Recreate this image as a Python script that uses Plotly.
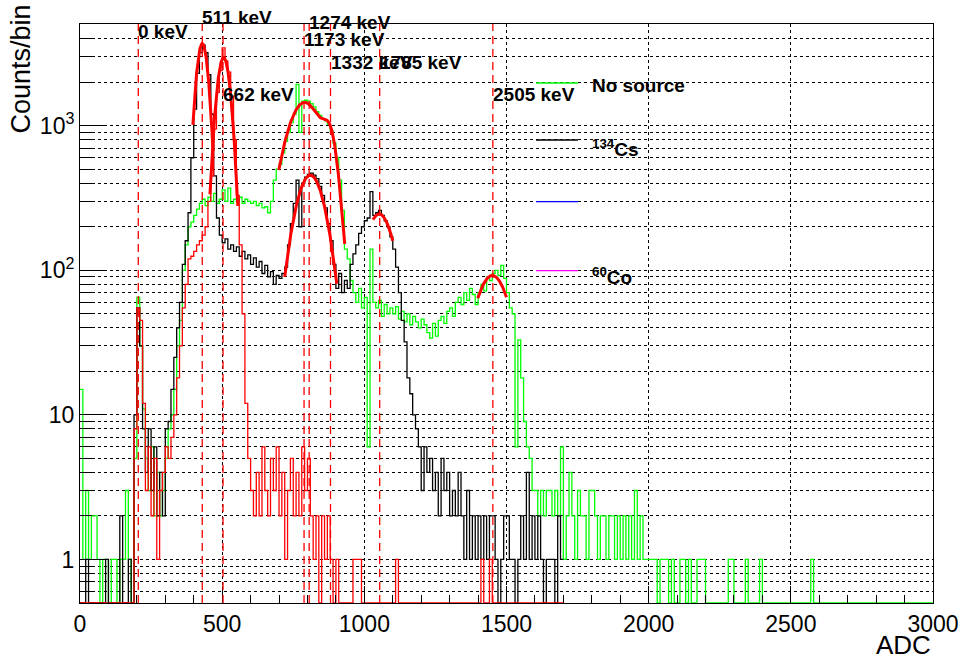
import math
import numpy as np
import plotly.graph_objects as go

# ---------------- data ----------------
BIN_WIDTH = 10  # ADC per bin, first bin starts at ADC 0

# "No source" (green), bins from ADC 0
green_counts = [
    15, 1, 3, 1, 2, 2, 1, 0, 1, 1,
    0, 1, 1, 0, 1, 1, 3, 1, 0, 5,
    65, 30, 11, 5, 3, 6, 2, 4, 2, 3,
    5, 8, 10, 15, 30, 45, 100, 150, 200, 215,
    240, 265, 290, 310, 280, 320, 300, 340, 290, 310,
    360, 300, 370, 290, 310, 300, 320, 290, 310, 300,
    290, 300, 280, 290, 270, 275, 250, 300, 420, 500,
    540, 650, 780, 900, 1050, 1200, 1930, 900, 1480, 1500,
    1480, 1420, 1350, 1250, 1180, 1120, 1080, 1020, 920, 760,
    600, 420, 260, 140, 120, 85, 70, 60, 75, 55,
    65, 6, 140, 60, 55, 62, 48, 58, 50, 55,
    50, 56, 46, 52, 44, 50, 42, 48, 44, 40,
    46, 42, 37, 34, 43, 35, 45, 48, 43, 52,
    55, 48, 60, 65, 58, 70, 62, 75, 68, 58,
    70, 80, 72, 90, 85, 95, 100, 92, 108, 88,
    70, 55, 50, 6, 33, 18, 9, 6, 5, 3,
    3, 2, 3, 2, 3, 3, 2, 3, 2, 6,
    1, 2, 4, 2, 1, 3, 2, 2, 1, 3,
    3, 2, 1, 2, 2, 1, 2, 2, 1, 2,
    1, 2, 1, 2, 1, 3, 1, 2, 1, 1,
    1, 1, 1, 0, 1, 1, 1, 0, 1, 0,
    0, 1, 1, 0, 1, 0, 0, 1, 1, 1,
    0, 0, 0, 0, 0, 0, 0, 0, 1, 1,
    0, 0, 0, 0, 1, 0, 0, 0, 0, 1,
    0, 0, 0, 0, 0, 0, 0, 0, 0, 0,
    0, 0, 0, 0, 0, 0, 0, 1, 0, 0,
    0, 0, 0, 0, 0, 0, 0, 0, 0, 0,
    0, 0, 0, 0, 0, 0, 0, 0, 0, 0,
    0, 0, 0, 0, 0, 0, 0, 0, 0, 0,
    0, 0, 0, 0, 0, 0, 0, 0, 0, 0,
]

# 134Cs (black), bins from ADC 0
black_counts = [
    0, 0, 1, 0, 0, 0, 0, 0, 0, 1,
    0, 0, 0, 0, 2, 0, 0, 1, 0, 10,
    55, 30, 8, 4, 8, 3, 6, 2, 4, 2,
    8, 9, 15, 25, 40, 60, 110, 160, 250, 600,
    1300, 2300, 3200, 3600, 3200, 2250, 1200, 450, 230, 175,
    155, 165, 140, 150, 135, 145, 125, 135, 120, 128,
    110, 122, 105, 115, 95, 108, 90, 98, 80, 92,
    88, 95, 105, 150, 210, 290, 420, 200, 400, 440,
    460, 470, 455, 430, 380, 330, 270, 210, 160, 110,
    75, 95, 70, 85, 75, 110, 130, 150, 180, 200,
    220, 230, 350, 240, 250, 260, 240, 220, 200, 170,
    140, 105, 70, 45, 32, 18, 14, 10, 8, 6,
    3, 6, 4, 5, 3, 4, 2, 5, 3, 4,
    2, 3, 2, 4, 2, 1, 3, 1, 2, 1,
    2, 1, 2, 1, 2, 2, 1, 0, 1, 2,
    2, 1, 1, 0, 1, 2, 1, 4, 1, 2,
    1, 2, 1, 0, 1, 1, 1, 0, 2, 1,
]

# red spectrum, bins from ADC 0
red_counts = [
    0, 0, 0, 0, 0, 0, 0, 0, 0, 0,
    0, 0, 0, 0, 0, 0, 0, 0, 0, 8,
    55, 45, 12, 3, 6, 2, 5, 1, 3, 4,
    6, 5, 7, 10, 18, 30, 55, 80, 120, 125,
    135, 150, 160, 175, 200, 300, 450, 950, 1700, 2400,
    3450, 2800, 2350, 1600, 800, 330, 150, 50, 12, 5,
    3, 2, 4, 2, 6, 3, 2, 5, 3, 6,
    2, 4, 1, 3, 5, 2, 4, 2, 6, 3,
    5, 2, 1, 2, 0, 2, 1, 2, 1, 0,
    1, 0, 0, 0, 0, 0, 1, 1, 1, 0,
    0, 0, 0, 0, 0, 0, 0, 0, 0, 0,
    0, 1, 0, 0, 0, 0, 0, 0, 0, 0,
    0, 0, 0, 0, 0, 0, 0, 0, 0, 0,
    0, 0, 0, 0, 0, 0, 0, 0, 0, 0,
    0, 1, 0, 0, 1, 0, 0, 0, 0, 0,
    0, 0, 0, 0, 0, 0, 0, 0, 0, 0,
    0, 0, 0, 0, 0, 0, 0, 0, 0, 0,
]

# Gaussian fit results (amplitude, mean, sigma, fit range)
fit_amp = [3700, 2960, 455, 245, 92]
fit_mean = [430, 505, 810, 1052, 1450]
fit_sigma = [20.5, 23, 50, 52, 60]
fit_lo = [397, 457, 720, 1030, 1399]
fit_hi = [468, 555, 903, 1100, 1500]
# double Gaussian fit on the green spectrum
dfit_amp = [1450, 500]
dfit_mean = [790, 880]
dfit_sigma = [62, 23]
dfit_range = [699, 931]

# calibration lines
energy_labels = ["0 keV", "511 keV", "662 keV", "1173 keV", "1274 keV",
                 "1332 keV", "1785 keV", "2505 keV"]
energy_adc = [205, 430, 503, 788, 806, 881, 1054, 1452]

legend_names = ["No source", "<sup>134</sup>Cs", "", "<sup>60</sup>Co"]
legend_colors = ["#00ff00", "#000000", "#0000ff", "#ff00ff"]

x_ticks = [0, 500, 1000, 1500, 2000, 2500, 3000]
y_ticks = [1, 10, 100, 1000]
y_ticktext = ["1", "10", "10<sup>2</sup>", "10<sup>3</sup>"]
y_minor = ([0.6, 0.7, 0.8, 0.9] + [2, 3, 4, 5, 6, 7, 8, 9]
           + [20, 30, 40, 50, 60, 70, 80, 90]
           + [200, 300, 400, 500, 600, 700, 800, 900]
           + [2000, 3000, 4000, 5000])

# ---------------- layout constants ----------------
W, H = 961, 655
L, R, T, B = 80, 28, 24, 52
Y_MIN, Y_MAX = 0.5, 5050
X_MAX = 3000
FONT = "Liberation Sans"


def px2paper_x(px):
    return (px - L) / (W - L - R)


def px2paper_y(py):
    return (H - B - py) / (H - T - B)


def step_xy(counts):
    x = [i * BIN_WIDTH for i in range(len(counts) + 1)]
    y = [c if c > 0 else Y_MIN for c in counts]
    y.append(y[-1])
    return x, y


fig = go.Figure()

for counts, color in [(green_counts, "#00ff00"), (black_counts, "#000000"),
                      (red_counts, "#ff0000")]:
    x, y = step_xy(counts)
    fig.add_trace(go.Scatter(x=x, y=y, mode="lines", line_shape="hv",
                             line=dict(color=color, width=1.3),
                             hoverinfo="skip", showlegend=False))

# fits
for a, m, s, lo, hi in zip(fit_amp, fit_mean, fit_sigma, fit_lo, fit_hi):
    xx = np.linspace(lo, hi, 200)
    yy = a * np.exp(-0.5 * ((xx - m) / s) ** 2)
    fig.add_trace(go.Scatter(x=xx, y=yy, mode="lines",
                             line=dict(color="#ff0000", width=3),
                             hoverinfo="skip", showlegend=False))
xx = np.linspace(dfit_range[0], dfit_range[1], 300)
yy = sum(a * np.exp(-0.5 * ((xx - m) / s) ** 2)
         for a, m, s in zip(dfit_amp, dfit_mean, dfit_sigma))
fig.add_trace(go.Scatter(x=xx, y=yy, mode="lines",
                         line=dict(color="#ff0000", width=3),
                         hoverinfo="skip", showlegend=False))

shapes = []
annotations = []

# energy lines and labels
label_py = [32, 17, 94.5, 40, 23, 62, 62, 94.5]
for lab, adc, py in zip(energy_labels, energy_adc, label_py):
    shapes.append(dict(type="line", xref="x", yref="paper", x0=adc, x1=adc,
                       y0=0, y1=1, layer="above",
                       line=dict(color="#ff0000", width=1.3, dash="8px,5px")))
    annotations.append(dict(xref="x", yref="paper", x=adc, y=px2paper_y(py),
                            xanchor="left", yanchor="middle", xshift=-2,
                            text="<b>" + lab + "</b>", showarrow=False,
                            font=dict(family=FONT, size=19, color="black")))

# legend
leg_line_py = [83, 140, 201.7, 270.7]
leg_text_py = [86, 148, 201.7, 276]
for name, color, lpy, tpy in zip(legend_names, legend_colors, leg_line_py, leg_text_py):
    shapes.append(dict(type="line", xref="paper", yref="paper",
                       x0=px2paper_x(536), x1=px2paper_x(578),
                       y0=px2paper_y(lpy), y1=px2paper_y(lpy), layer="above",
                       line=dict(color=color, width=1.3)))
    if name:
        annotations.append(dict(xref="paper", yref="paper", x=px2paper_x(590),
                                y=px2paper_y(tpy), xanchor="left", yanchor="middle",
                                text="<b>" + name + "</b>", showarrow=False,
                                font=dict(family=FONT, size=19, color="black")))

# axis titles
annotations.append(dict(xref="paper", yref="paper", x=px2paper_x(20),
                        y=px2paper_y(3), xanchor="center", yanchor="top",
                        textangle=-90, text="Counts/bin", showarrow=False,
                        font=dict(family=FONT, size=27, color="black")))
annotations.append(dict(xref="paper", yref="paper", x=1.0, y=px2paper_y(645),
                        xanchor="right", yanchor="middle", text="ADC",
                        showarrow=False,
                        font=dict(family=FONT, size=26, color="black")))

fig.update_layout(
    width=W, height=H, autosize=False,
    margin=dict(l=L, r=R, t=T, b=B, pad=0, autoexpand=False),
    paper_bgcolor="white", plot_bgcolor="white",
    showlegend=False,
    shapes=shapes, annotations=annotations,
    font=dict(family=FONT, color="black"),
    xaxis=dict(range=[0, X_MAX], tickmode="array", tickvals=x_ticks,
               automargin=False,
               ticks="inside", ticklen=17, tickwidth=1, tickcolor="black",
               showline=True, mirror=True, linecolor="black", linewidth=1,
               showgrid=True, gridcolor="black", griddash="dot", gridwidth=1,
               zeroline=False, tickfont=dict(family=FONT, size=23, color="black"),
               minor=dict(dtick=100, tick0=0, ticks="inside", ticklen=8,
                          tickcolor="black", showgrid=False)),
    yaxis=dict(type="log", range=[math.log10(Y_MIN), math.log10(Y_MAX)],
               tickmode="array", tickvals=y_ticks, ticktext=y_ticktext,
               automargin=False,
               ticks="inside", ticklen=26, tickwidth=1, tickcolor="black",
               showline=True, mirror=True, linecolor="black", linewidth=1,
               showgrid=True, gridcolor="black", griddash="dot", gridwidth=1,
               zeroline=False, tickfont=dict(family=FONT, size=23, color="black"),
               minor=dict(tickmode="array", tickvals=y_minor, ticks="inside",
                          ticklen=12, tickcolor="black", showgrid=True,
                          gridcolor="black", griddash="dot", gridwidth=1)),
)

fig.write_html("out.html")
